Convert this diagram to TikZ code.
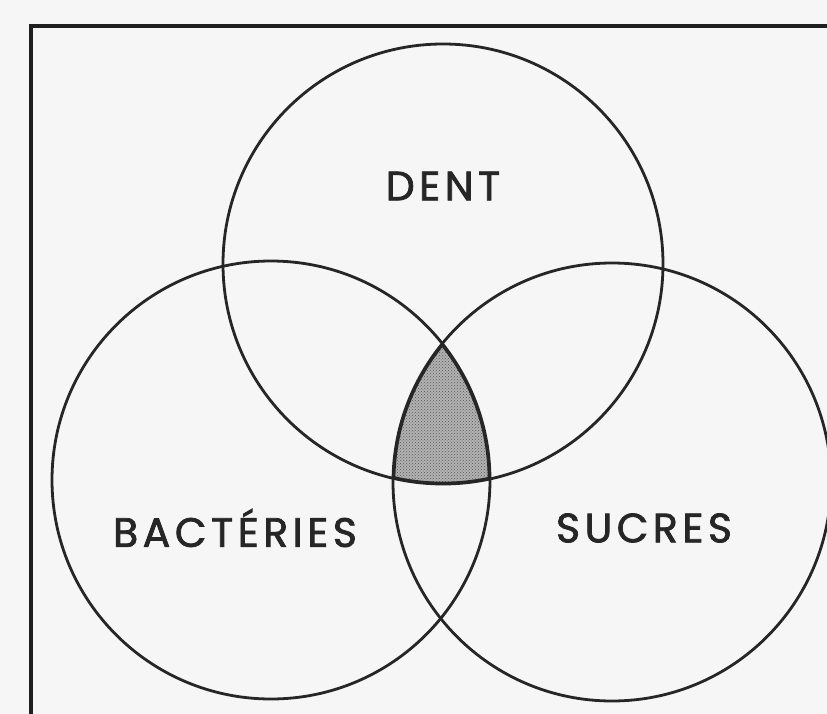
\documentclass[tikz,border=0pt]{standalone}
\usepackage{fontspec}
\setmainfont{Poppins}
\newfontfamily\labelfont[FakeBold=1.8, LetterSpace=11]{Poppins}
\usetikzlibrary{patterns}
\definecolor{paper}{gray}{0.965}
\definecolor{ink}{gray}{0.15}
\tikzset{
  setcircle/.style={circle, draw=ink, line width=2.8pt, minimum size=440pt, inner sep=0pt},
  setlabel/.style={font=\labelfont\fontsize{41}{45}\selectfont, text=ink, inner sep=0pt},
  frameline/.style={line width=3.4pt, draw=black!88}
}
\begin{document}
\begin{tikzpicture}[x=1pt,y=-1pt]
  \fill[paper] (0,0) rectangle (827,714);
  \useasboundingbox (0,0) rectangle (827,714);
  % shaded triple intersection
  \begin{scope}
    \clip (443,264) circle (220pt);
    \clip (271,480) circle (219pt);
    \clip (612,482) circle (219pt);
    \fill[black!30] (380,330) rectangle (520,500);
    \fill[pattern=crosshatch dots, pattern color=black!65] (380,330) rectangle (520,500);
  \end{scope}
  % circles
  \node[setcircle] (dent) at (443,264) {};
  \node[setcircle, minimum size=438pt] (bact) at (271,480) {};
  \node[setcircle, minimum size=438pt] (sucr) at (612,482) {};
  % outline of shaded region (thicker)
  \begin{scope}
    \clip (443,264) circle (220pt);
    \clip (271,480) circle (219pt);
    \clip (612,482) circle (219pt);
    \draw[line width=4.6pt, draw=black!85] (443,264) circle (220pt);
    \draw[line width=4.6pt, draw=black!85] (271,480) circle (219pt);
    \draw[line width=4.6pt, draw=black!85] (612,482) circle (219pt);
  \end{scope}
  % labels
  \node[setlabel] (ldent) at (443,186) {DENT};
  \node[setlabel] (lbact) at (235,528) {BACTÉRIES};
  \node[setlabel] (lsucr) at (644,528) {SUCRES};
  % frame
  \coordinate (ftr) at (827,26);
  \coordinate (ftl) at (31,26);
  \coordinate (fbl) at (31,714);
  \draw[frameline] (ftr) -- (ftl) -- (fbl);
\end{tikzpicture}
\end{document}
